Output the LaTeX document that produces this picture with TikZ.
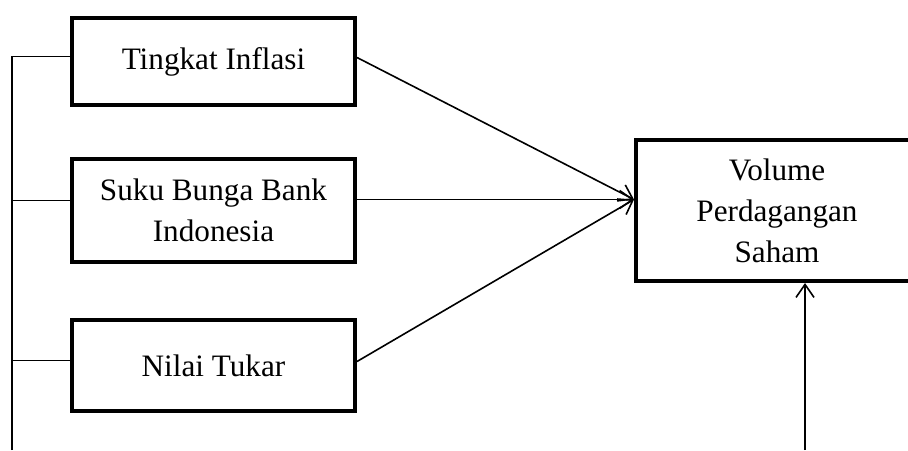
\documentclass[tikz,border=0pt]{standalone}
\usepackage{fontspec}
\setmainfont{Liberation Serif}
\usetikzlibrary{arrows.meta, positioning, calc}

\begin{document}
\begin{tikzpicture}[
        x=0.5pt, y=-0.5pt,
        var/.style={draw, rectangle, line width=2pt, minimum width=141.5pt, align=center, inner sep=2pt},
        link/.style={line width=0.8pt},
        arr/.style={link, -{Straight Barb[length=6.5pt,width=9pt,line width=0.8pt]}},
        font=\fontsize{15.6}{20.5}\selectfont,
    ]
        \path[use as bounding box, clip] (0,0) rectangle (908,450);

        \node[var, minimum height=43.5pt] (inf)  at (213.5,61.5)  {Tingkat Inflasi};
        \node[var, minimum height=51.5pt] (sbi)  at (213.5,210.5) {Suku Bunga Bank\\Indonesia};
        \node[var, minimum height=45.5pt] (kurs) at (213.5,365.5) {Nilai Tukar};
        \node[var, minimum height=70.5pt, minimum width=150pt] (vol) at (786,210.5) {\hspace*{-9pt}Volume\\\hspace*{-9pt}Perdagangan\\\hspace*{-9pt}Saham};

        \coordinate (bus) at (12,450);
        \coordinate (infin)  at ([yshift=2.5pt]inf.west);
        \coordinate (sbiin)  at ([yshift=5pt]sbi.west);
        \coordinate (kursin) at ([yshift=2.5pt,xshift=2pt]kurs.west);
        \coordinate (hub) at ([yshift=5.5pt]vol.west);
        \coordinate (low) at (805,450);

        % left bus
        \draw[link] (bus) -- (bus |- infin) -- (infin);
        \draw[link] (bus |- sbiin) -- (sbiin);
        \draw[link] (bus |- kursin) -- (kursin);

        % arrows to volume
        \draw[arr] ([yshift=2pt]inf.east)  -- (hub);
        \draw[arr] ([yshift=5.5pt]sbi.east) -- (hub);
        \draw[arr] ([yshift=2pt]kurs.east) -- (hub);
        \draw[arr] (low) -- (low |- vol.south);
    \end{tikzpicture}
\end{document}
